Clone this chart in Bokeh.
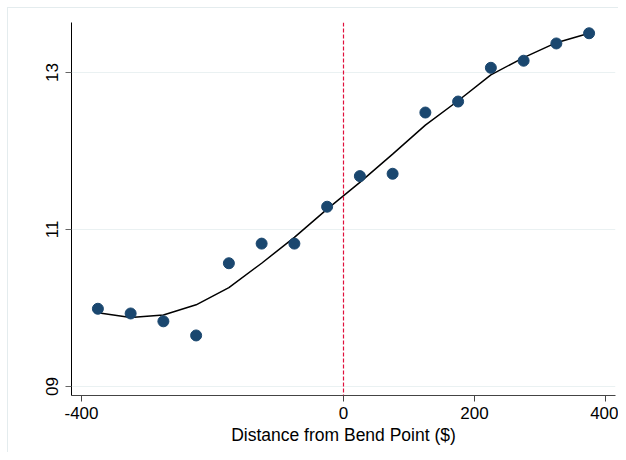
from bokeh.plotting import figure
from bokeh.models import Range1d, FixedTicker, Span, ColumnDataSource
from bokeh.embed import file_html
from bokeh.resources import INLINE

# data
bins = [-375, -325, -275, -225, -175, -125, -75, -25, 25, 75, 125, 175, 225, 275, 325, 375]
means = [9.99, 9.93, 9.83, 9.65, 10.57, 10.82, 10.82, 11.29, 11.68, 11.71, 12.49, 12.63, 13.06, 13.15, 13.37, 13.50]
fitted = [9.94, 9.88, 9.91, 10.04, 10.26, 10.57, 10.90, 11.26, 11.60, 11.96, 12.33, 12.64, 12.97, 13.19, 13.38, 13.50]
x_ticks = [-400, 0, 200, 400]
x_tick_labels = {-400: "-400", 0: "0", 200: "200", 400: "400"}
y_ticks = [9, 11, 13]
y_tick_labels = {9: "09", 11: "11", 13: "13"}
x_title = "Distance from Bend Point ($)"

src = ColumnDataSource(dict(x=bins, y=means, f=fitted))

FONT = "Liberation Sans"
FRAME = "#e4ecee"

p = figure(width=618, height=452, output_backend="svg", toolbar_location=None,
           x_range=Range1d(-415.3, 415.3), y_range=Range1d(8.885, 13.637),
           min_border_left=71, min_border_right=3, min_border_top=22, min_border_bottom=57)
p.outline_line_color = None
p.background_fill_color = "white"
p.border_fill_color = None
p.styles = {
    "background": (f"linear-gradient({FRAME},{FRAME}) 7px 7px / 1px 100% no-repeat, "
                   f"linear-gradient({FRAME},{FRAME}) 7px 7px / 100% 1px no-repeat, white"),
}

# grid
p.xgrid.grid_line_color = None
p.ygrid.grid_line_color = "#eaf1f2"
p.ygrid.grid_line_width = 1.2
p.ygrid.ticker = FixedTicker(ticks=y_ticks)

# axes
p.xaxis.ticker = FixedTicker(ticks=x_ticks)
p.xaxis.major_label_overrides = x_tick_labels
p.yaxis.ticker = FixedTicker(ticks=y_ticks)
p.yaxis.major_label_overrides = y_tick_labels
p.yaxis.major_label_orientation = "vertical"
for ax in (p.xaxis, p.yaxis):
    ax.minor_tick_line_color = None
    ax.major_tick_out = 6
    ax.major_tick_in = 0
    ax.major_label_text_font = FONT
    ax.major_label_text_font_size = "17px"
    ax.major_label_text_color = "black"
p.xaxis.axis_line_color = "#444444"
p.xaxis.major_tick_line_color = "#444444"
p.yaxis.axis_line_color = "black"
p.yaxis.major_tick_line_color = "#666666"
p.xaxis.major_label_standoff = 5
p.yaxis.major_label_standoff = 7
p.xaxis.axis_label = x_title
p.xaxis.axis_label_text_font = FONT
p.xaxis.axis_label_text_font_size = "17.5px"
p.xaxis.axis_label_text_font_style = "normal"
p.xaxis.axis_label_text_color = "black"
p.xaxis.axis_label_standoff = 3

# bend point
p.add_layout(Span(location=0, dimension="height", line_color="#e0103c",
                  line_dash="4 2", line_width=1.2))

p.line("x", "f", source=src, line_color="black", line_width=1.5)
p.scatter("x", "y", source=src, size=11, fill_color="#1a476f", line_color="#1a476f")

open("out.html", "w").write(file_html(p, INLINE))
